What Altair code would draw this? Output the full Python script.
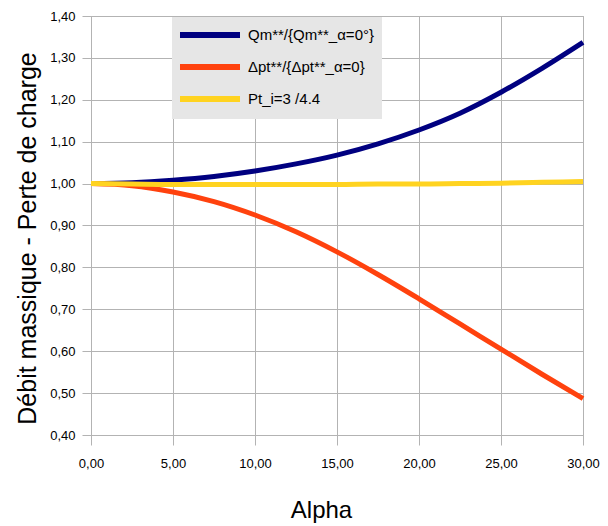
import altair as alt
import pandas as pd

alpha = [0, 2.5, 5, 7.5, 10, 12.5, 15, 17.5, 20, 22.5, 25, 27.5, 30]
qm = [1.000, 1.002, 1.008, 1.017, 1.030, 1.047, 1.068, 1.095, 1.128, 1.168, 1.218, 1.275, 1.337]
dpt = [1.000, 0.995, 0.980, 0.957, 0.925, 0.885, 0.837, 0.783, 0.725, 0.665, 0.605, 0.545, 0.487]
pti = [1.000, 0.999, 0.998, 0.998, 0.998, 0.998, 0.998, 0.999, 0.999, 1.000, 1.001, 1.003, 1.005]

names = ["Qm**/{Qm**_α=0°}", "Δpt**/{Δpt**_α=0}", "Pt_i=3 /4.4"]
colors = ["#000080", "#ff420e", "#ffd320"]

rows = []
for s, vals in zip(names, [qm, dpt, pti]):
    for a, v in zip(alpha, vals):
        rows.append({"alpha": a, "val": v, "serie": s})
df = pd.DataFrame(rows)

fmt = "replace(format(datum.value, '.2f'), '.', ',')"

chart = alt.Chart(df).mark_line(strokeWidth=5, interpolate="monotone").encode(
    x=alt.X("alpha:Q", scale=alt.Scale(domain=[0, 30], nice=False),
            axis=alt.Axis(title="Alpha", values=[0, 5, 10, 15, 20, 25, 30], labelExpr=fmt,
                          titleFontSize=24, titleFontWeight="normal", titlePadding=28,
                          titleX=230, labelFlush=False,
                          labelFontSize=13, labelPadding=12, tickSize=10)),
    y=alt.Y("val:Q", scale=alt.Scale(domain=[0.4, 1.4], nice=False),
            axis=alt.Axis(title="Débit massique - Perte de charge",
                          values=[0.4, 0.5, 0.6, 0.7, 0.8, 0.9, 1.0, 1.1, 1.2, 1.3, 1.4],
                          labelExpr=fmt, titleFontSize=25, titleFontWeight="normal",
                          titlePadding=9, titleY=222, labelFontSize=13, labelPadding=7,
                          labelFlush=False, tickSize=9)),
    color=alt.Color("serie:N", scale=alt.Scale(domain=names, range=colors),
                    legend=alt.Legend(title=None, orient="none", legendX=81, legendY=1,
                                      symbolType="M-1.4286,0L7.1429,0", symbolSize=196,
                                      symbolStrokeWidth=6, labelFontSize=15, rowPadding=8,
                                      fillColor="#e6e6e6", padding=8, labelOffset=48,
                                      labelLimit=300)),
).properties(
    width=492, height=419,
    autosize=alt.AutoSizeParams(type="none"),
    padding={"left": 83, "top": 8, "right": 17, "bottom": 99},
).configure(font="Liberation Sans").configure_axis(
    gridColor="#b3b3b3", domainColor="#b3b3b3", tickColor="#b3b3b3",
    labelColor="black", titleColor="black", gridWidth=1
).configure_view(stroke="#b3b3b3")

chart.save("out.html", embed_options={"renderer": "svg", "actions": False})
